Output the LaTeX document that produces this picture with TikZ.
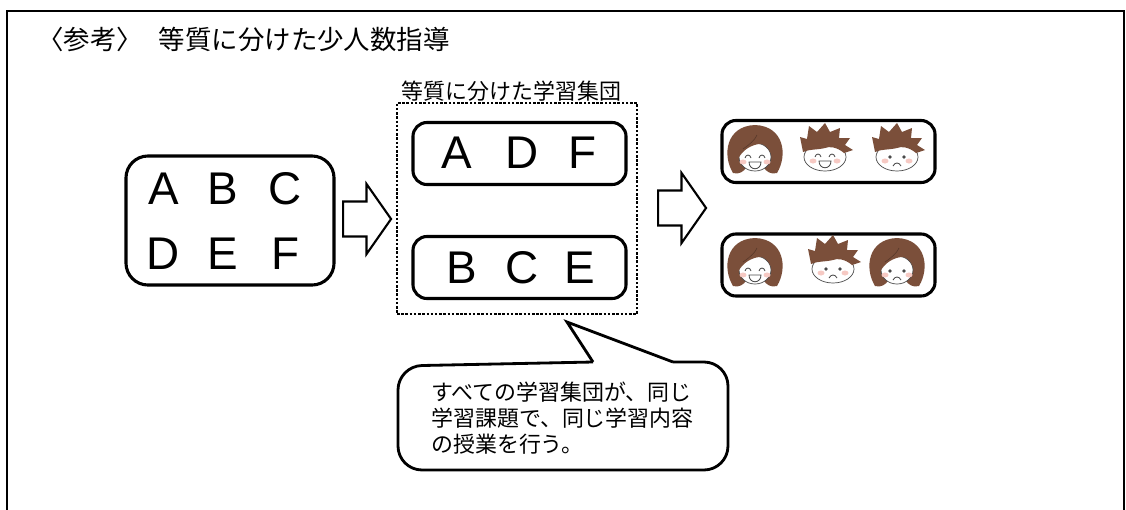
\documentclass[tikz,border=0pt]{standalone}
\usepackage{fontspec}
\setmainfont{Noto Sans CJK JP}
\newfontfamily\latinfont{Liberation Sans}
\usetikzlibrary{shapes.arrows}
\definecolor{kidBrown}{HTML}{7B4F3A}
\definecolor{kidCheek}{HTML}{F6C9C3}
\definecolor{kidLine}{HTML}{4A4A4A}
\tikzset{
  frame/.style={draw, line width=1.2pt},
  pool/.style={draw, line width=2.2pt, rounded corners=0.55cm, inner sep=0pt,
              minimum width=5.2cm, minimum height=3.225cm},
  group/.style={draw, line width=2.2pt, rounded corners=0.35cm, inner sep=0pt,
              minimum width=5.325cm, minimum height=1.55cm},
  groupbox/.style={draw, line width=1.8pt, dash pattern=on 1.8pt off 1.2pt,
              inner sep=0pt, minimum width=6cm, minimum height=5.275cm},
  letter/.style={font=\latinfont\fontsize{32.6pt}{36pt}\selectfont, inner sep=0pt},
  bigarrow/.style={single arrow, draw, line width=1.5pt, inner xsep=0pt, inner ysep=0.41cm,
              minimum height=1.2cm, single arrow head extend=0.44cm,
              single arrow tip angle=110, anchor=tail},
  title/.style={font=\fontsize{18.8pt}{22pt}\selectfont, inner sep=0pt},
  lbl/.style={font=\fontsize{15.6pt}{18.4pt}\selectfont, inner sep=0pt},
  balloon/.style={draw, line width=2pt},
  % faces, coordinates in px with y pointing down
  pics/girl/.style={code={
    \fill[kidBrown] (-22,22) .. controls (-33,4) and (-29,-25) .. (0,-26)
      .. controls (29,-25) and (33,4) .. (22,22) .. controls (16,24) and (11,20) .. (9,17)
      -- (-9,17) .. controls (-11,20) and (-16,24) .. (-22,22) -- cycle;
    \draw[kidLine, line width=0.5pt, fill=white] (0,6) ellipse [x radius=16, y radius=14];
    \fill[kidBrown] (-17,8) .. controls (-19,-12) and (-6,-18) .. (2,-16)
      .. controls (12,-15) and (19,-6) .. (17,6) .. controls (14,-5) and (8,-8) .. (4,-7)
      .. controls (-3,-6) and (-12,-2) .. (-17,8) -- cycle;
    \draw[kidBrown!70!black, line width=0.4pt] (2,-16) .. controls (0,-11) and (-6,-6) .. (-12,-2);
  }},
  pics/boy/.style={code={
    \draw[kidLine, line width=0.5pt, fill=white] (0,8) ellipse [x radius=21, y radius=14];
    \fill[kidBrown] (-22,3) -- (-25,-12) -- (-18,-10) -- (-16,-23) -- (-8,-17) -- (0,-26)
      -- (5,-17) -- (15,-21) -- (14,-11) -- (25,-11) -- (20,-4) -- (28,1) -- (19,4)
      .. controls (12,-2) and (4,-3) .. (0,-1) .. controls (-8,1) and (-16,0) .. (-22,3) -- cycle;
  }},
  pics/happy/.style={code={
    \fill[kidCheek] (-12,4) ellipse [x radius=3.5, y radius=2.5]
                    (12,4) ellipse [x radius=3.5, y radius=2.5];
    \draw[kidLine, line width=0.6pt] (-10,0) .. controls (-9,-4) and (-5,-4) .. (-4,0)
                                     (4,0) .. controls (5,-4) and (9,-4) .. (10,0);
    \draw[kidLine, line width=0.6pt, fill=white] (-6,4) -- (6,4)
      .. controls (6,13) and (-6,13) .. (-6,4) -- cycle;
  }},
  pics/sad/.style={code={
    \fill[kidCheek] (-12,4) ellipse [x radius=3.5, y radius=2.5]
                    (12,4) ellipse [x radius=3.5, y radius=2.5];
    \fill[kidLine] (-7,0) circle [radius=1.8] (7,0) circle [radius=1.8];
    \draw[kidLine, line width=0.6pt] (-4,9) .. controls (-2,5) and (2,5) .. (4,9);
  }},
}

\begin{document}
\begin{tikzpicture}[x=0.025cm, y=-0.025cm]
  \useasboundingbox (0,0) rectangle (1126,509);
  \draw[frame] (7,520) |- (1124,11) -- (1124,520);
  \node[title, anchor=west] (head) at (37,39) {〈参考〉\hspace{0.6em}等質に分けた少人数指導};

  % whole class
  \node[pool] (pool) at (230,220.5) {};
  \foreach \l/\x/\y in {A/164/189, B/223/189, C/285/189, D/163/254, E/223/254, F/285/254}
    \node[letter] (pool\l) at (\x,\y) {\l};
  \node[bigarrow] (arr1) at (342,219) {};

  % equal groups
  \node[groupbox] (grp) at (517,208.5) {};
  \node[lbl] (grpname) at (511.5,91) {等質に分けた学習集団};
  \node[group] (grpA) at (519.5,153.5) {};
  \node[group] (grpB) at (519.5,267.5) {};
  \foreach \l/\x in {A/457, D/522, F/582}
    \node[letter] (a\l) at (\x,153) {\l};
  \foreach \l/\x in {B/462, C/522, E/580}
    \node[letter] (b\l) at (\x,268) {\l};
  \node[bigarrow] (arr2) at (657,208) {};

  % children in each group
  \node[group] (teamA) at (828.5,151.5) {};
  \node[group] (teamB) at (828.5,265) {};
  \foreach \k/\x/\y/\fx/\fy/\m in {girl/755/151/755/158/happy, boy/825/149/825/157/happy,
                                   boy/897/149/897/157/sad, girl/755/264/755/271/happy,
                                   boy/833/261/833/269/sad, girl/897/264/897/271/sad}{
    \pic at (\x,\y) {\k};
    \pic at (\fx,\fy) {\m};
  }

  % speech balloon
  \coordinate (tip) at (567,322);
  \draw[balloon] (593,362) [rounded corners=0.6cm] -- (398,366) -- (398,470)
                 -- (728,470) -- (728,362) -- (673,362);
  \draw[balloon] (593,362) -- (tip) -- (673,362);
  \node[lbl, anchor=west, align=left] (note) at (431,418)
       {すべての学習集団が、同じ\\学習課題で、同じ学習内容\\の授業を行う。};
\end{tikzpicture}
\end{document}
